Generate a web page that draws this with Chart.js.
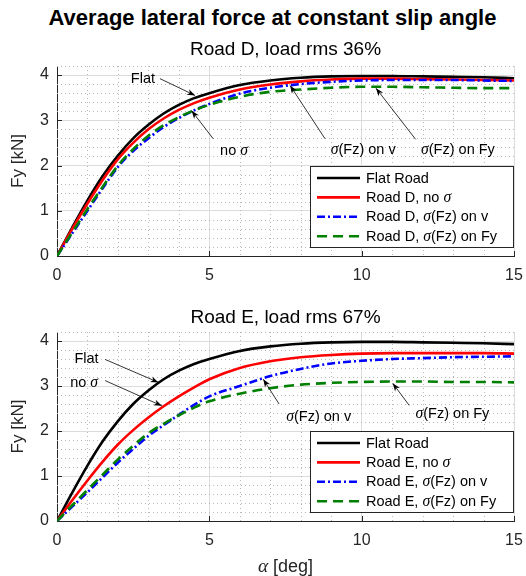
<!DOCTYPE html>
<html>
<head>
<meta charset="utf-8">
<script src="https://cdn.jsdelivr.net/npm/chart.js@4.4.1/dist/chart.umd.min.js"></script>
<style>
  body { margin: 0; background: #fff; width: 526px; height: 576px; position: relative; overflow: hidden;
         font-family: "Liberation Sans", Arial, sans-serif; }
  #title { position: absolute; left: 0; top: 5px; width: 545px; text-align: center;
           font-weight: bold; font-size: 22px; line-height: 25px; color: #000; }
  .box { position: absolute; left: 0; width: 526px; }
</style>
</head>
<body>
<div id="title">Average lateral force at constant slip angle</div>
<div class="box" style="top:30px;height:262px"><canvas id="c1"></canvas></div>
<div class="box" style="top:292px;height:284px"><canvas id="c2"></canvas></div>

<script>
// slip angle [deg]
const alpha = [0, 0.5, 1, 1.5, 2, 2.5, 3, 3.5, 4, 4.5, 5, 6, 7, 8, 9, 10, 11, 12, 13, 14, 15];

// lateral force Fy [kN]
const flatRoad      = [0, 0.63, 1.23, 1.77, 2.22, 2.6, 2.9, 3.15, 3.34, 3.49, 3.6, 3.78, 3.88, 3.94, 3.97, 3.98, 3.98, 3.97, 3.96, 3.95, 3.93];
const roadD_noSigma = [0, 0.6, 1.16, 1.68, 2.14, 2.5, 2.8, 3.04, 3.23, 3.38, 3.5, 3.68, 3.79, 3.86, 3.9, 3.92, 3.92, 3.91, 3.9, 3.89, 3.88];
const roadD_sigmaV  = [0, 0.5, 1.0, 1.5, 1.97, 2.32, 2.6, 2.85, 3.05, 3.22, 3.36, 3.59, 3.72, 3.8, 3.85, 3.88, 3.89, 3.89, 3.89, 3.88, 3.87];
const roadD_sigmaFy = [0, 0.52, 1.04, 1.53, 2.0, 2.36, 2.66, 2.89, 3.07, 3.22, 3.34, 3.52, 3.63, 3.68, 3.72, 3.74, 3.74, 3.73, 3.72, 3.71, 3.71];
const roadE_noSigma = [0, 0.46, 0.9, 1.32, 1.7, 2.02, 2.3, 2.55, 2.77, 2.97, 3.15, 3.4, 3.55, 3.64, 3.69, 3.72, 3.73, 3.73, 3.73, 3.73, 3.72];
const roadE_sigmaV  = [0, 0.32, 0.64, 0.97, 1.3, 1.6, 1.89, 2.13, 2.36, 2.58, 2.77, 3.0, 3.22, 3.38, 3.5, 3.56, 3.6, 3.62, 3.64, 3.65, 3.66];
const roadE_sigmaFy = [0, 0.35, 0.69, 1.03, 1.37, 1.67, 1.95, 2.16, 2.35, 2.52, 2.66, 2.83, 2.95, 3.03, 3.07, 3.09, 3.1, 3.1, 3.09, 3.09, 3.08];

const xRange = [0, 15];
const yRange = [0, 4.2];

// text labels with arrows, in data units: label centre, arrow tail, arrow head
const notesD = [
  { text: 'Flat',        at: [2.82, 3.92],  from: [3.38, 3.92],  to: [4.53, 3.55] },
  { text: 'no σ',        at: [5.81, 2.32],  from: [5.13, 2.59],  to: [4.42, 3.21] },
  { text: 'σ(Fz) on v',  at: [10.05, 2.35], from: [8.8, 2.59],   to: [7.65, 3.77] },
  { text: 'σ(Fz) on Fy', at: [13.16, 2.35], from: [11.77, 2.58], to: [10.47, 3.71] }
];
const notesE = [
  { text: 'Flat',        at: [0.97, 3.59],  from: [1.58, 3.59],  to: [3.33, 3.08] },
  { text: 'no σ',        at: [0.89, 3.06],  from: [1.58, 3.12],  to: [3.44, 2.56] },
  { text: 'σ(Fz) on v',  at: [8.59, 2.32],  from: [7.29, 2.6],   to: [6.77, 3.15] },
  { text: 'σ(Fz) on Fy', at: [12.98, 2.37], from: [11.56, 2.57], to: [11.02, 3.06] }
];

const SANS = '"Liberation Sans", Arial, sans-serif';
const AXIS = '#262626';

function pts(ys) { return alpha.map((a, i) => ({ x: a, y: ys[i] })); }

function drawRich(ctx, str, x, y, size, align) {
  const parts = str.split(/([σα])/).filter(s => s);
  const fontOf = p => /[σα]/.test(p) ? `italic ${size * 1.08}px "Liberation Serif", serif` : `${size}px ${SANS}`;
  let w = 0;
  parts.forEach(p => { ctx.font = fontOf(p); w += ctx.measureText(p).width; });
  let cx = align === 'center' ? x - w / 2 : x;
  ctx.textBaseline = 'middle';
  ctx.textAlign = 'left';
  parts.forEach(p => { ctx.font = fontOf(p); ctx.fillText(p, cx, y); cx += ctx.measureText(p).width; });
}

function arrow(ctx, x0, y0, x1, y1) {
  ctx.save();
  ctx.strokeStyle = '#000'; ctx.fillStyle = '#000'; ctx.lineWidth = 0.8; ctx.setLineDash([]);
  ctx.beginPath(); ctx.moveTo(x0, y0); ctx.lineTo(x1, y1); ctx.stroke();
  const a = Math.atan2(y1 - y0, x1 - x0), L = 8, W = 3;
  ctx.beginPath();
  ctx.moveTo(x1, y1);
  ctx.lineTo(x1 - L * Math.cos(a) + W * Math.sin(a), y1 - L * Math.sin(a) - W * Math.cos(a));
  ctx.lineTo(x1 - L * Math.cos(a) * 0.7, y1 - L * Math.sin(a) * 0.7);
  ctx.lineTo(x1 - L * Math.cos(a) - W * Math.sin(a), y1 - L * Math.sin(a) + W * Math.cos(a));
  ctx.closePath(); ctx.fill();
  ctx.restore();
}

// minor grid, inner ticks, annotations, legend, x label
const decor = {
  id: 'decor',
  beforeDatasetsDraw(chart) {
    const { ctx, chartArea: ca, scales: { x, y } } = chart;
    ctx.save();
    ctx.strokeStyle = '#b8b8b8'; ctx.lineWidth = 1; ctx.setLineDash([1, 3]);
    for (let v = 1; v < 15; v++) {
      if (v % 5 === 0) continue;
      const px = Math.round(x.getPixelForValue(v)) + 0.5;
      ctx.beginPath(); ctx.moveTo(px, ca.top); ctx.lineTo(px, ca.bottom); ctx.stroke();
    }
    for (let k = 1; k <= 21; k++) {
      if (k % 5 === 0) continue;
      const py = Math.round(y.getPixelForValue(k * 0.2)) + 0.5;
      ctx.beginPath(); ctx.moveTo(ca.left, py); ctx.lineTo(ca.right, py); ctx.stroke();
    }
    ctx.setLineDash([]); ctx.strokeStyle = AXIS;
    [0, 5, 10, 15].forEach(v => {
      const px = Math.round(x.getPixelForValue(v)) + 0.5;
      ctx.beginPath(); ctx.moveTo(px, ca.bottom); ctx.lineTo(px, ca.bottom - 5); ctx.stroke();
    });
    [0, 1, 2, 3, 4].forEach(v => {
      const py = Math.round(y.getPixelForValue(v)) + 0.5;
      ctx.beginPath(); ctx.moveTo(ca.left, py); ctx.lineTo(ca.left + 5, py); ctx.stroke();
    });
    ctx.restore();
  },
  afterDraw(chart, args, opts) {
    const { ctx, chartArea: ca, scales: { x, y } } = chart;
    ctx.save();
    ctx.fillStyle = '#000';
    opts.notes.forEach(n => {
      drawRich(ctx, n.text, x.getPixelForValue(n.at[0]), y.getPixelForValue(n.at[1]), 14.5, 'center');
      arrow(ctx, x.getPixelForValue(n.from[0]), y.getPixelForValue(n.from[1]),
                 x.getPixelForValue(n.to[0]), y.getPixelForValue(n.to[1]));
    });
    // legend box
    const bw = 203, bh = 81;
    const bx = Math.round(ca.right - 1 - bw), by = Math.round(ca.bottom - 9 - bh);
    ctx.fillStyle = '#fff'; ctx.fillRect(bx, by, bw, bh);
    ctx.strokeStyle = AXIS; ctx.lineWidth = 1; ctx.strokeRect(bx + 0.5, by + 0.5, bw, bh);
    chart.data.datasets.forEach((ds, i) => {
      const ry = by + 12 + i * 19.4;
      ctx.strokeStyle = ds.borderColor; ctx.lineWidth = ds.borderWidth;
      ctx.setLineDash(ds.borderDash || []);
      ctx.beginPath(); ctx.moveTo(bx + 7, ry); ctx.lineTo(bx + 50, ry); ctx.stroke();
      ctx.setLineDash([]);
      ctx.fillStyle = '#000';
      drawRich(ctx, ds.label, bx + 56, ry + 0.5, 14.5, 'left');
    });
    if (opts.xTitle) {
      ctx.fillStyle = AXIS;
      drawRich(ctx, opts.xTitle, (ca.left + ca.right) / 2, ca.bottom + 46, 18, 'center');
    }
    ctx.restore();
  }
};

function makeChart(id, title, titlePad, xHeight, xTitle, road, series, notes) {
  const styles = [
    { color: '#000000', dash: [] },
    { color: '#ff0000', dash: [] },
    { color: '#0000ff', dash: [8, 3, 2, 3] },
    { color: '#008000', dash: [10, 6] }
  ];
  const labels = ['Flat Road', road + ', no σ', road + ', σ(Fz) on v', road + ', σ(Fz) on Fy'];
  return new Chart(document.getElementById(id), {
    type: 'line',
    data: {
      datasets: series.map((s, i) => ({
        label: labels[i],
        data: pts(s),
        borderColor: styles[i].color,
        borderDash: styles[i].dash,
        borderWidth: 2.6,
        pointRadius: 0,
        fill: false,
        cubicInterpolationMode: 'monotone',
        order: 3 - i
      }))
    },
    options: {
      responsive: true,
      maintainAspectRatio: false,
      animation: false,
      devicePixelRatio: 1,
      layout: { padding: { left: 0, right: 12, top: 0, bottom: 0 } },
      plugins: {
        legend: { display: false },
        tooltip: { enabled: false },
        title: {
          display: true, text: title, fullSize: false, color: '#000',
          font: { family: SANS, size: 19, weight: 'normal' },
          padding: titlePad
        },
        decor: { notes: notes, xTitle: xTitle }
      },
      scales: {
        x: {
          type: 'linear', min: xRange[0], max: xRange[1],
          afterFit: s => { s.height = xHeight; s.paddingLeft = 0; s.paddingRight = 0; },
          ticks: { stepSize: 5, color: AXIS, padding: 10, font: { family: SANS, size: 16 } },
          grid: { color: '#dcdcdc', lineWidth: 1, drawTicks: false },
          border: { color: AXIS, width: 1 }
        },
        y: {
          min: yRange[0], max: yRange[1],
          afterFit: s => { s.width = 57; s.paddingTop = 0; s.paddingBottom = 0; },
          ticks: { stepSize: 1, includeBounds: false, color: AXIS, padding: 8, font: { family: SANS, size: 16 } },
          grid: { color: '#dcdcdc', lineWidth: 1, drawTicks: false },
          border: { color: AXIS, width: 1 },
          title: { display: true, text: 'Fy [kN]', color: AXIS, font: { family: SANS, size: 17 }, padding: { top: 8, bottom: 0 } }
        }
      }
    },
    plugins: [decor]
  });
}

makeChart('c1', 'Road D, load rms 36%', { top: 8.6, bottom: 4.6 }, 36, null, 'Road D',
  [flatRoad, roadD_noSigma, roadD_sigmaV, roadD_sigmaFy], notesD);
makeChart('c2', 'Road E, load rms 67%', { top: 14.6, bottom: 2.6 }, 55, 'α [deg]', 'Road E',
  [flatRoad, roadE_noSigma, roadE_sigmaV, roadE_sigmaFy], notesE);
</script>
</body>
</html>
